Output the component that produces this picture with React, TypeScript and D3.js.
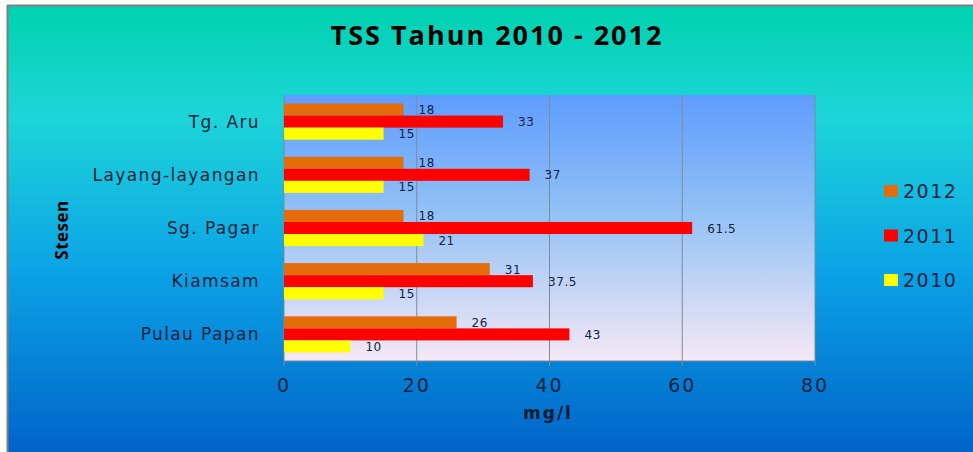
import * as d3 from "d3";

const stations = ["Tg. Aru", "Layang-layangan", "Sg. Pagar", "Kiamsam", "Pulau Papan"];
const years = ["2012", "2011", "2010"];
const v2012 = [18, 18, 18, 31, 26];
const v2011 = [33, 37, 61.5, 37.5, 43];
const v2010 = [15, 15, 21, 15, 10];
const xTicks = [0, 20, 40, 60, 80];
const colors = ["#e46c0a", "#ff0000", "#ffff00"];

const W = 973;
const H = 452;
const plot = { left: 284, right: 815, top: 95, bottom: 361 };

const App = () => {
  const series = [v2012, v2011, v2010];
  const x = d3.scaleLinear().domain([0, 80]).range([plot.left, plot.right]);
  const y = d3.scaleBand().domain(stations).range([plot.top, plot.bottom]).paddingInner(0.32).paddingOuter(0.16);
  const inner = d3.scaleBand().domain(years).range([0, y.bandwidth()]).padding(0);
  const font = "'Open Sans', sans-serif";
  const wide = "'DejaVu Sans', sans-serif";
  const dark = "#13233f";

  return (
    <svg width={W} height={H} style={{ position: "absolute", left: 0, top: 0 }}>
      <defs>
        <linearGradient id="bg" x1="0" y1="0" x2="0" y2="1">
          <stop offset="0" stopColor="#00d2ae" />
          <stop offset="0.25" stopColor="#1dd5d8" />
          <stop offset="0.6" stopColor="#0ba2e6" />
          <stop offset="1" stopColor="#0064c8" />
        </linearGradient>
        <linearGradient id="pa" x1="0" y1="0" x2="0" y2="1">
          <stop offset="0" stopColor="#5e9cff" />
          <stop offset="0.45" stopColor="#93c2f5" />
          <stop offset="1" stopColor="#f6e8f6" />
        </linearGradient>
      </defs>
      <rect x={0} y={0} width={W} height={H} fill="#ffffff" />
      <rect x={7} y={5} width={W - 7} height={H - 5} fill="url(#bg)" />
      <line x1={7} y1={5.5} x2={W} y2={5.5} stroke="#808080" strokeWidth={2} />
      <line x1={7.5} y1={5} x2={7.5} y2={H} stroke="#808080" strokeWidth={2} />

      <text x={497} y={45} textAnchor="middle" fontFamily={font} fontWeight="bold" fontSize={27} letterSpacing={2} fill="#000">
        TSS Tahun 2010 - 2012
      </text>

      <rect x={plot.left} y={plot.top} width={plot.right - plot.left} height={plot.bottom - plot.top} fill="url(#pa)" />
      {xTicks.slice(1).map((t) => (
        <line key={t} x1={x(t)} x2={x(t)} y1={plot.top} y2={plot.bottom} stroke="#7f8a99" strokeWidth={1} />
      ))}
      <line x1={plot.left} x2={plot.left} y1={plot.top} y2={plot.bottom} stroke="#7f8a99" />
      <line x1={plot.left} x2={plot.right} y1={plot.bottom} y2={plot.bottom} stroke="#7f8a99" />
      {xTicks.map((t) => (
        <g key={t}>
          <line x1={x(t)} x2={x(t)} y1={plot.bottom} y2={plot.bottom + 5} stroke="#7f8a99" />
          <text x={x(t)} y={392} textAnchor="middle" fontFamily={wide} fontSize={19} letterSpacing={2} fill={dark}>
            {t}
          </text>
        </g>
      ))}

      {stations.map((s, i) => (
        <g key={s}>
          <text
            x={260}
            y={(y(s) ?? 0) + y.bandwidth() / 2 + 6}
            textAnchor="end"
            fontFamily={wide}
            fontSize={17}
            letterSpacing={1.4}
            fill={dark}
          >
            {s}
          </text>
          {series.map((vals, k) => {
            const by = (y(s) ?? 0) + (inner(years[k]) ?? 0);
            const bh = inner.bandwidth();
            return (
              <g key={k}>
                <rect x={x(0)} y={by} width={x(vals[i]) - x(0)} height={bh} fill={colors[k]} />
                <text
                  x={x(vals[i]) + 15}
                  y={by + bh / 2 + 4.5}
                  fontFamily={wide}
                  fontSize={12}
                  letterSpacing={0.6}
                  fill={dark}
                >
                  {vals[i]}
                </text>
              </g>
            );
          })}
        </g>
      ))}

      <text
        transform="translate(68,230) rotate(-90)"
        textAnchor="middle"
        fontFamily={font}
        fontWeight="bold"
        fontSize={17}
        letterSpacing={0.5}
        fill="#000"
      >
        Stesen
      </text>
      <text x={548} y={419} textAnchor="middle" fontFamily={wide} fontWeight="bold" fontSize={17} letterSpacing={2} fill="#0a1a33">
        mg/l
      </text>

      {years.map((yr, k) => (
        <g key={yr}>
          <rect x={884} y={185 + k * 44.5} width={14} height={12} fill={colors[k]} />
          <text x={903} y={198 + k * 44.5} fontFamily={wide} fontSize={19} letterSpacing={1.5} fill={dark}>
            {yr}
          </text>
        </g>
      ))}
    </svg>
  );
};

export default App;
